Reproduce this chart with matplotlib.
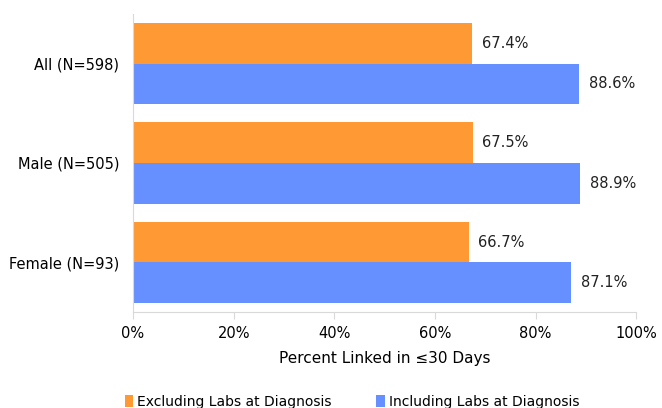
import numpy as np
import matplotlib.pyplot as plt

categories = ['All (N=598)', 'Male (N=505)', 'Female (N=93)']
excluding = [67.4, 67.5, 66.7]
including = [88.6, 88.9, 87.1]
series_names = ['Excluding Labs at Diagnosis', 'Including Labs at Diagnosis']
x_ticks = [0, 20, 40, 60, 80, 100]

orange = '#FF9933'
blue = '#6690FF'

plt.rcParams['font.family'] = ['DejaVu Sans']

fig = plt.figure(figsize=(6.62, 4.08), dpi=100)
ax = fig.add_axes([0.201, 0.235, 0.760, 0.731])

y = np.arange(len(categories))
h = 0.41
b1 = ax.barh(y - h/2, excluding, height=h, color=orange, label=series_names[0])
b2 = ax.barh(y + h/2, including, height=h, color=blue, label=series_names[1])

for bars, vals in ((b1, excluding), (b2, including)):
    for bar, v in zip(bars, vals):
        ax.annotate('{:.1f}%'.format(v), (v, bar.get_y() + bar.get_height()/2),
                    xytext=(7, 0), textcoords='offset points',
                    va='center', ha='left', fontsize=10.5, color='#222222')

ax.set_xlim(0, 100)
ax.set_ylim(2.5, -0.5)
ax.set_yticks(y)
ax.set_yticklabels(categories, fontsize=10.5)
ax.set_xticks(x_ticks)
ax.set_xticklabels(['{}%'.format(t) for t in x_ticks], fontsize=10.5)
ax.tick_params(axis='y', length=0, pad=10)
ax.tick_params(axis='x', length=5, color='#d9d9d9', pad=5)
for s in ['top', 'right']:
    ax.spines[s].set_visible(False)
ax.spines['left'].set_color('#d9d9d9')
ax.spines['bottom'].set_color('#d9d9d9')
ax.set_xlabel('Percent Linked in \u226430 Days', fontsize=11, labelpad=7)

fig.legend(handles=[b1, b2], loc='center', bbox_to_anchor=(0.532, 0.015), ncol=2,
           frameon=False, fontsize=10, handlelength=0.6, handleheight=0.9,
           handletextpad=0.3, columnspacing=3.2)

fig.savefig('out.png', dpi=100)
